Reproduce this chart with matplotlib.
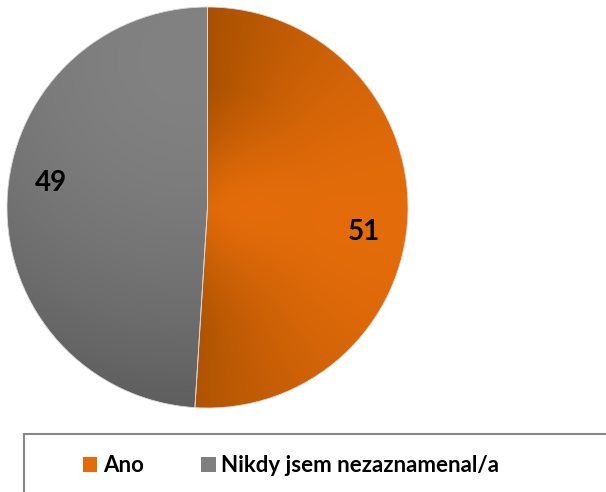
import numpy as np
import matplotlib.pyplot as plt
from matplotlib.patches import Rectangle

# data
labels = ['Ano', 'Nikdy jsem nezaznamenal/a']
values = [51, 49]
colors = ['#E36C0A', '#7F7F7F']

W, H = 606, 492
fig = plt.figure(figsize=(W / 100, H / 100), dpi=100)
ax = fig.add_axes([0, 0, 1, 1])

cx, cy, r = 207.5, H - 207.5, 200.5

wedges, _ = ax.pie(values, colors=colors, startangle=90, counterclock=False,
                   center=(cx, cy), radius=r, frame=True,
                   wedgeprops=dict(edgecolor='#d8d8d8', linewidth=0.6))
ax.set_xlim(0, W)
ax.set_ylim(0, H)
ax.axis('off')

# gradient fill inside each wedge (office-like shading)
n = 400
xs = np.linspace(cx - r, cx + r, n)
ys = np.linspace(cy - r, cy + r, n)
X, Y = np.meshgrid(xs, ys)


def mix(c_light, c_dark, t):
    img = np.zeros((n, n, 3))
    for k in range(3):
        img[..., k] = c_light[k] * (1 - t) + c_dark[k] * t
    return img / 255.0


# orange: bright toward the right, darker toward the split lines
rr = np.hypot(X - cx, Y - cy) / r
ang = np.degrees(np.arctan2(Y - cy, X - cx))
t_ang = np.clip(np.abs(ang + 5) / 100, 0, 1) ** 1.8
t_rad = np.clip(np.hypot(X - (cx + 50), Y - (cy + 5)) / (r * 1.1), 0, 1) ** 1.6
w_ang = np.clip(rr / 0.6, 0, 1)
t_or = w_ang * t_ang + (1 - w_ang) * t_rad
# gray: light near the top of the split, darker to the bottom
t_gr = np.clip(np.hypot(X - (cx - 20), Y - (cy + 150)) / (r * 1.9), 0, 1) ** 1.8

grads = [
    mix((228, 108, 10), (163, 78, 0), t_or),
    mix((130, 130, 130), (88, 88, 88), t_gr),
]
for w, g in zip(wedges, grads):
    im = ax.imshow(g, extent=(cx - r, cx + r, cy - r, cy + r), origin='lower',
                   interpolation='bilinear', zorder=w.get_zorder())
    im.set_clip_path(w)
    w.set_zorder(w.get_zorder() + 0.1)
    w.set_facecolor('none')

# value labels
for w, v in zip(wedges, values):
    mid = np.deg2rad((w.theta1 + w.theta2) / 2 - 7)
    tx = cx + 0.79 * r * np.cos(mid)
    ty = cy + 0.79 * r * np.sin(mid)
    ax.text(tx, ty, str(v), ha='center', va='center', fontsize=20,
            fontweight='bold', family='Lato', color='black', zorder=5)

# legend box
ax.add_patch(Rectangle((24, -20), W, H - 434 + 20, fill=False,
                       edgecolor='#868686', linewidth=1.5, clip_on=False))
handles = [Rectangle((0, 0), 1, 1, facecolor=c) for c in colors]
leg = ax.legend(handles, labels, loc='center', bbox_to_anchor=(291, H - 466),
                bbox_transform=ax.transData, ncol=2, frameon=False,
                prop=dict(family='Lato', weight='bold', size=16),
                handlelength=0.65, handleheight=0.65, handletextpad=0.25,
                columnspacing=2.6)

fig.savefig('out.png', dpi=100)
